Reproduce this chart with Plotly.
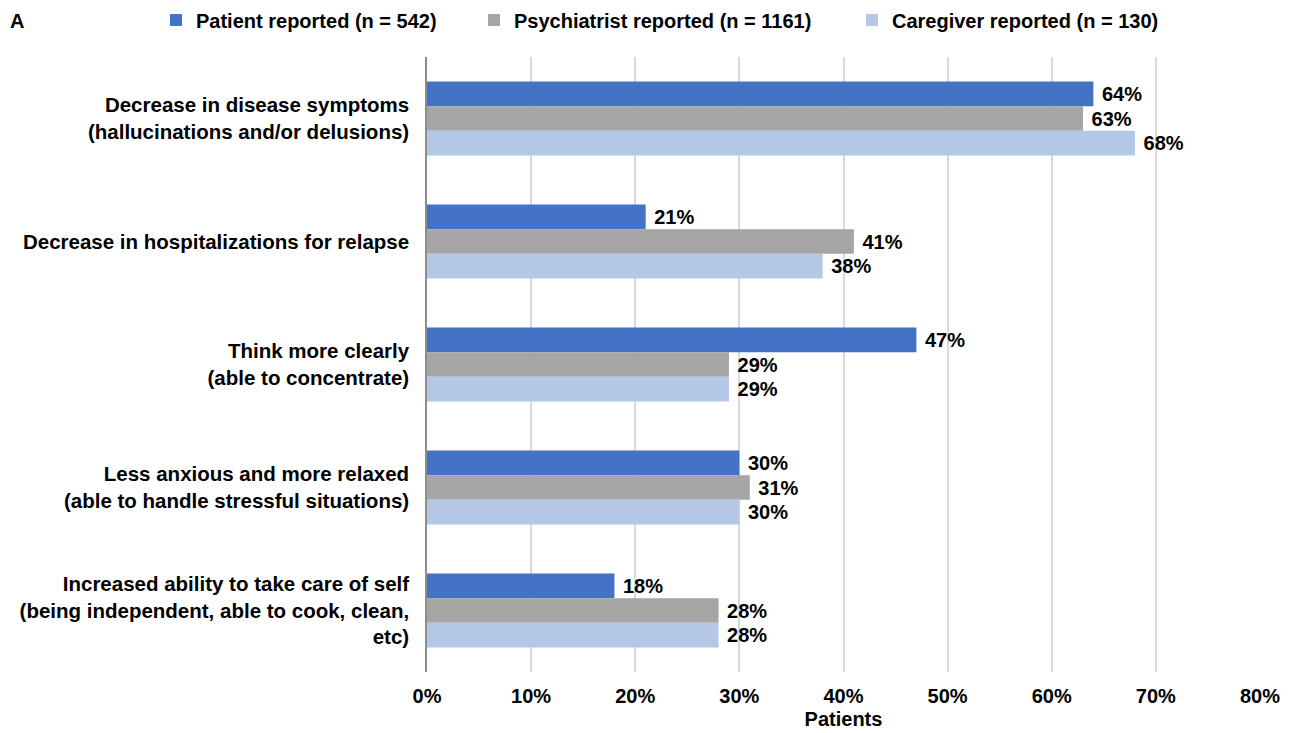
import plotly.graph_objects as go

categories = [
    "Decrease in disease symptoms<br>(hallucinations and/or delusions)",
    "Decrease in hospitalizations for relapse",
    "Think more clearly<br>(able to concentrate)",
    "Less anxious and more relaxed<br>(able to handle stressful situations)",
    "Increased ability to take care of self<br>(being independent, able to cook, clean,<br>etc)",
]
series_names = ["Patient reported (n = 542)", "Psychiatrist reported (n = 1161)", "Caregiver reported (n = 130)"]
patient = [64, 21, 47, 30, 18]
psychiatrist = [63, 41, 29, 31, 28]
caregiver = [68, 38, 29, 30, 28]
colors = ["#4472C4", "#A5A5A5", "#B4C7E7"]
tick_vals = [0, 10, 20, 30, 40, 50, 60, 70, 80]
tick_text = [f"{v}%" for v in tick_vals]

font_family = "Liberation Sans, Arial, sans-serif"
FS = 20
L, R, T, B = 419, 41, 49, 69
W, H = 1293, 733
legend_ids = ["legend", "legend2", "legend3"]
legend_x_px = [148, 466, 844]

fig = go.Figure()
for name, vals, col, lid in zip(series_names, [patient, psychiatrist, caregiver], colors, legend_ids):
    fig.add_trace(go.Bar(
        y=categories, x=vals, name=name, orientation="h",
        marker=dict(color=col, line=dict(width=0)),
        text=[f"<b>\u00a0{v}%</b>" for v in vals], textposition="outside",
        textfont=dict(size=FS, color="black", family=font_family),
        cliponaxis=False, legend=lid,
    ))

legend_layout = {}
for lid, xp in zip(legend_ids, legend_x_px):
    legend_layout[lid] = dict(orientation="h", x=xp / W, xanchor="left", xref="container",
                              y=1 - 12 / H, yanchor="middle", yref="container",
                              font=dict(size=FS, family=font_family, weight="bold"),
                              itemwidth=30, bgcolor="rgba(0,0,0,0)")

fig.update_layout(
    width=W, height=H,
    barmode="group", bargap=0.4, bargroupgap=0,
    plot_bgcolor="white", paper_bgcolor="white",
    font=dict(family=font_family, size=FS, color="black"),
    margin=dict(l=L, r=R, t=T, b=B),
    showlegend=True,
    xaxis=dict(range=[0, 80], tickvals=tick_vals, ticktext=[f"<b>{t}</b>" for t in tick_text],
               showgrid=True, gridcolor="#D9D9D9", gridwidth=1.5, zeroline=False,
               showline=False, ticks="", tickfont=dict(size=FS), automargin=False,
               ticklabelstandoff=10,
               title=dict(text="<b>Patients</b>", font=dict(size=FS), standoff=5)),
    yaxis=dict(autorange="reversed", showline=True, linecolor="#8C8C8C", linewidth=1.5,
               ticks="", tickfont=dict(size=20.5), ticklabelstandoff=12, automargin=False,
               tickvals=categories, ticktext=[f"<b>{c}</b>" for c in categories]),
    **legend_layout,
)

fig.add_annotation(text="<b>A</b>", xref="paper", yref="paper",
                   x=-L / (W - L - R), y=1 + T / (H - T - B),
                   xanchor="left", yanchor="top", showarrow=False,
                   font=dict(size=20, color="black", family=font_family))

fig.write_html("out.html")
